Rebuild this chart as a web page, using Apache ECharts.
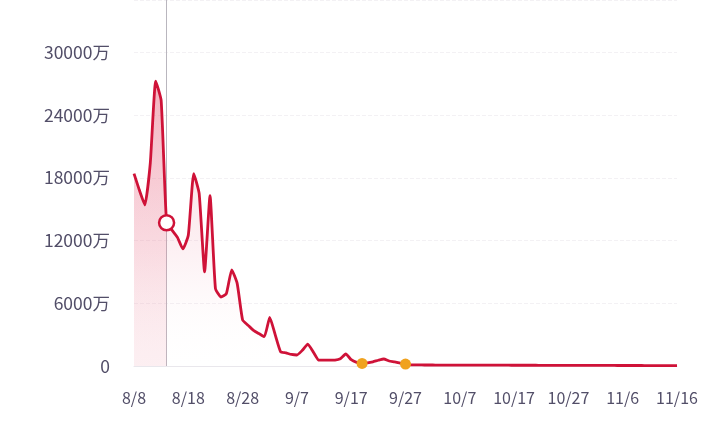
<!DOCTYPE html>
<html>
<head>
<meta charset="utf-8">
<script src="https://cdn.jsdelivr.net/npm/echarts@6/dist/echarts.min.js"></script>
<style>
  html, body { margin: 0; padding: 0; background: #fff; }
  #main { width: 719px; height: 425px; }
</style>
</head>
<body>
<div id="main"></div>
<script>
var dates = [
    '8/8', '8/9', '8/10', '8/11', '8/12', '8/13', '8/14', '8/15', '8/16', '8/17',
    '8/18', '8/19', '8/20', '8/21', '8/22', '8/23', '8/24', '8/25', '8/26', '8/27',
    '8/28', '8/29', '8/30', '8/31', '9/1', '9/2', '9/3', '9/4', '9/5', '9/6',
    '9/7', '9/8', '9/9', '9/10', '9/11', '9/12', '9/13', '9/14', '9/15', '9/16',
    '9/17', '9/18', '9/19', '9/20', '9/21', '9/22', '9/23', '9/24', '9/25', '9/26',
    '9/27', '9/28', '9/29', '9/30', '10/1', '10/2', '10/3', '10/4', '10/5', '10/6',
    '10/7', '10/8', '10/9', '10/10', '10/11', '10/12', '10/13', '10/14', '10/15', '10/16',
    '10/17', '10/18', '10/19', '10/20', '10/21', '10/22', '10/23', '10/24', '10/25', '10/26',
    '10/27', '10/28', '10/29', '10/30', '10/31', '11/1', '11/2', '11/3', '11/4', '11/5',
    '11/6', '11/7', '11/8', '11/9', '11/10', '11/11', '11/12', '11/13', '11/14', '11/15',
    '11/16'
];

// 单位：万
var values = [
    18400, 16800, 15400, 19400, 27250, 25400, 13700, 13000, 12300, 11200,
    12500, 18400, 16500, 9000, 16300, 7400, 6600, 6900, 9200, 7900,
    4400, 3900, 3400, 3100, 2800, 4650, 3000, 1370, 1250, 1100,
    1050, 1500, 2100, 1350, 570, 560, 560, 570, 700, 1150,
    600, 350, 250, 300, 400, 550, 670, 480, 400, 280,
    180, 110, 100, 100, 95, 95, 90, 90, 90, 85,
    85, 85, 80, 80, 80, 80, 75, 75, 75, 75,
    70, 70, 70, 70, 70, 65, 65, 65, 65, 60,
    60, 60, 60, 60, 55, 55, 55, 55, 55, 50,
    50, 50, 50, 50, 45, 45, 45, 45, 45, 45,
    40
];

var yTicks = [0, 6000, 12000, 18000, 24000, 30000];
var pointerIdx = 6;       // 8/14
var orangeIdx = [42, 50]; // 9/19, 9/27

var lineColor = '#cf1238';
var labelColor = '#524e68';

var myChart = echarts.init(document.getElementById('main'));

var leftPart = values.map(function (v, i) { return i <= pointerIdx ? v : '-'; });

var marks = orangeIdx.map(function (i) {
    return {
        coord: [dates[i], values[i]],
        symbol: 'circle',
        symbolSize: 11,
        itemStyle: { color: '#f0a21e', borderWidth: 0 }
    };
});
marks.push({
    coord: [dates[pointerIdx], values[pointerIdx]],
    symbol: 'circle',
    symbolSize: 15,
    itemStyle: { color: '#fff', borderColor: lineColor, borderWidth: 2.5 }
});

var option = {
    backgroundColor: '#fff',
    animation: false,
    grid: {
        left: 134,
        right: 42,
        top: 0,
        bottom: 59
    },
    xAxis: {
        type: 'category',
        data: dates,
        boundaryGap: false,
        axisLine: { lineStyle: { color: '#e9e7ec' } },
        axisTick: { show: false },
        axisLabel: {
            interval: 9,
            margin: 24,
            fontSize: 16,
            color: labelColor,
            fontFamily: 'Noto Sans CJK SC'
        }
    },
    yAxis: {
        type: 'value',
        min: yTicks[0],
        max: 35000,
        interval: yTicks[1] - yTicks[0],
        axisLine: { show: false },
        axisTick: { show: false },
        axisLabel: {
            showMaxLabel: false,
            margin: 24,
            fontSize: 17.5,
            color: labelColor,
            fontFamily: 'Noto Sans CJK SC',
            formatter: function (v) {
                return v === 0 ? '0' : v + '万';
            }
        },
        splitLine: {
            lineStyle: { color: '#f3f1f4', type: 'dashed' }
        }
    },
    series: [
        {
            name: 'left',
            type: 'line',
            data: leftPart,
            symbol: 'none',
            lineStyle: { width: 0 },
            areaStyle: {
                color: new echarts.graphic.LinearGradient(0, 0, 0, 1, [
                    { offset: 0, color: 'rgba(232,100,125,0.38)' },
                    { offset: 1, color: 'rgba(238,150,168,0.22)' }
                ])
            },
            z: 1
        },
        {
            name: 'main',
            type: 'line',
            data: values,
            symbol: 'none',
            smooth: 0.15,
            lineStyle: { color: lineColor, width: 2.8 },
            areaStyle: {
                color: new echarts.graphic.LinearGradient(0, 0, 0, 1, [
                    { offset: 0, color: 'rgba(228,80,110,0.38)' },
                    { offset: 0.6, color: 'rgba(236,130,155,0.16)' },
                    { offset: 1, color: 'rgba(255,255,255,0.02)' }
                ])
            },
            markLine: {
                silent: true,
                symbol: 'none',
                label: { show: false },
                lineStyle: { color: '#b9b6be', width: 1, type: 'solid' },
                data: [{ xAxis: dates[pointerIdx] }],
                z: 1
            },
            markPoint: {
                silent: true,
                label: { show: false },
                data: marks
            },
            z: 3
        }
    ]
};
myChart.setOption(option);
</script>
</body>
</html>
